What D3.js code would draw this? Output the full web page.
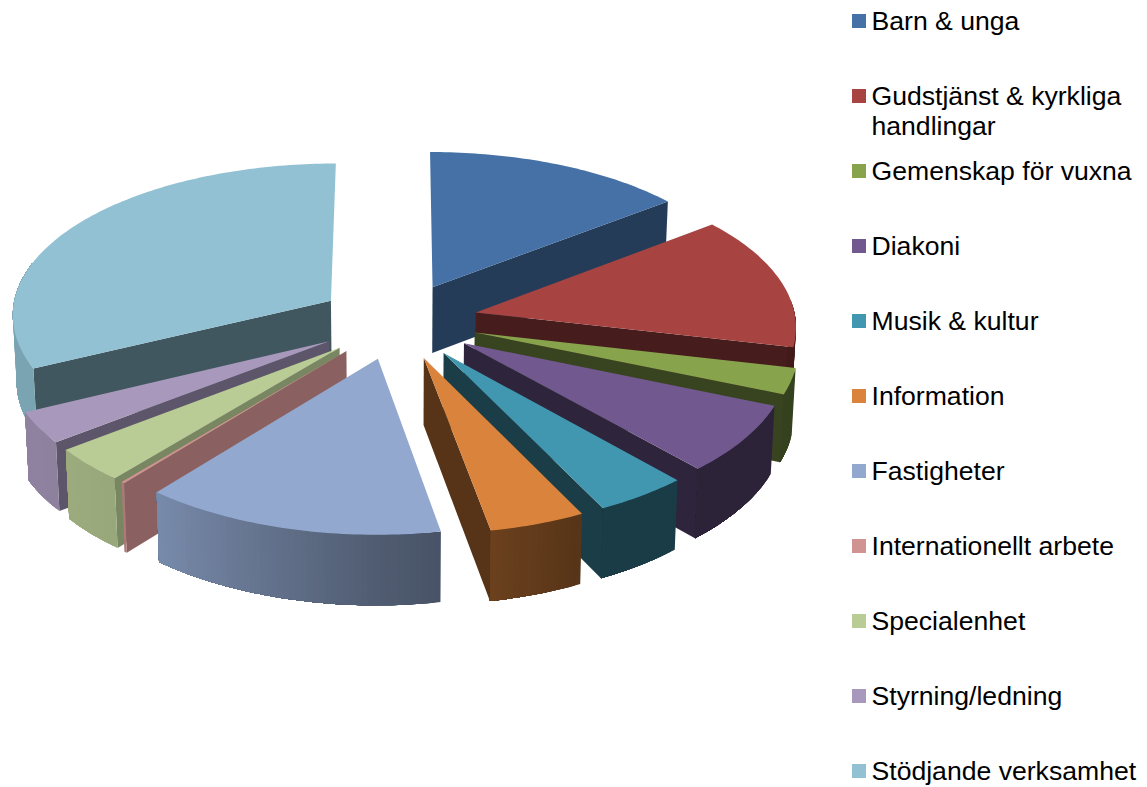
<!DOCTYPE html>
<html><head><meta charset="utf-8">
<script src="https://cdn.jsdelivr.net/npm/d3@7/dist/d3.min.js"></script>
<style>html,body{margin:0;padding:0;background:#fff}svg{display:block}text{font-family:"Liberation Sans",Arial,sans-serif;font-size:26.6px;fill:#000}</style>
</head><body><svg id="c" width="1147" height="787"></svg>
<script>
const categories = ["Barn & unga","Gudstjänst & kyrkliga|handlingar","Gemenskap för vuxna","Diakoni","Musik & kultur","Information","Fastigheter","Internationellt arbete","Specialenhet","Styrning/ledning","Stödjande verksamhet"];
const values = [14.5,14.1,2.7,7.1,4.3,4.4,13.8,0.15,3.55,3.25,32.2];
const colors = ["#4571a6","#a74442","#87a44d","#71588f","#4197af","#d9833c","#92a8cf","#d19392","#b9cc95","#a899bc","#91c1d3"];

const svg = d3.select("#c");
const cx=398, cy=320.8, R0=320, K0=153, persp=0.09, perspX=0.08, explode=0.25, H=66.5, bottomShrink=0.99;
const deg = r => r*180/Math.PI;
const pie = d3.pie().sort(null).startAngle(0).endAngle(2*Math.PI)(values);

function project(X,Y,z){
  const s = 1/(1-persp*Y), sx = 1/(1-perspX*Y);
  let x = cx + R0*X*sx, y = cy + K0*Y*s;
  if(z){ x = cx + (x-cx)*bottomShrink; y += H*Math.sqrt(s); }
  return [x,y];
}
const endShade = d3.scaleLinear().domain([52,103,170]).range([.53,.42,.40]).clamp(true);
const startShade = d3.scaleLinear().domain([219,232,244]).range([.66,.56,.45]).clamp(true);
const rimShade = d3.scaleLinear().domain([100,154,169,180,218,240,290]).range([.40,.40,.49,.55,.82,.85,.85]).clamp(true);
const dark = (c,f)=>{const r=d3.rgb(c);return d3.rgb(r.r*f,r.g*f,r.b*f).formatRgb();};
const line = d3.line();

function sliceGeom(d){
  const m=(d.startAngle+d.endAngle)/2;
  const ox=explode*Math.sin(m), oy=-explode*Math.cos(m);
  const rim=a=>[ox+Math.sin(a), oy-Math.cos(a)];
  return {ox,oy,rim};
}
function drawSlice(i){
  const d=pie[i], g=sliceGeom(d), col=colors[i], G=svg.append("g");
  const a0=d.startAngle,a1=d.endAngle;
  const A=[g.ox,g.oy], P0=g.rim(a0), P1=g.rim(a1);
  const wall=(P,f)=>G.append("path")
    .attr("d",line([project(A[0],A[1],0),project(P[0],P[1],0),project(P[0],P[1],1),project(A[0],A[1],1)])+"Z")
    .attr("fill",dark(col,f));
  if(deg(a1)<180) wall(P1,endShade(deg(a1)));
  if(deg(a0)>180) wall(P0,startShade(deg(a0)));
  // outer wall as overlapping shaded strips, so no seams appear between them
  const lo=Math.max(deg(a0),85), hi=Math.min(deg(a1),285);
  if(hi>lo){
    const n=Math.max(1,Math.ceil(hi-lo));
    const sc=d3.scaleLinear().domain([0,n]).range([lo,hi]);
    d3.range(n).forEach(k=>{
      // each strip runs on to the wall's end; later strips paint over the overlap
      const angs=d3.range(k,n+1).map(sc);
      const topE=angs.map(a=>{const p=g.rim(a*Math.PI/180);return project(p[0],p[1],0);});
      const botE=angs.map(a=>{const p=g.rim(a*Math.PI/180);return project(p[0],p[1],1);}).reverse();
      const f=rimShade((sc(k)+sc(k+1))/2);
      G.append("path").attr("d",line(topE.concat(botE))+"Z").attr("fill",dark(col,f));
    });
  }
  // top face
  const steps=Math.max(2,Math.ceil(deg(a1-a0)));
  const sc=d3.scaleLinear().domain([0,steps]).range([a0,a1]);
  const pts=[project(A[0],A[1],0)].concat(d3.range(steps+1).map(k=>{const p=g.rim(sc(k));return project(p[0],p[1],0);}));
  G.append("path").attr("d",line(pts)+"Z").attr("fill",col);
}
// painter's order: far to near, left and right sides separately
[10,9,8,7,0,1,2,3,4,5,6].forEach(drawSlice);

// legend
const legY = d3.scaleLinear().domain([0,10]).range([21,771]);
const leg = svg.append("g").selectAll("g").data(categories).join("g");
leg.append("rect").attr("x",852).attr("y",(d,i)=>legY(i)-7).attr("width",14).attr("height",14).attr("fill",(d,i)=>colors[i]);
leg.each(function(d,i){
  d.split("|").forEach((t,j)=>d3.select(this).append("text").attr("x",871.5).attr("y",legY(i)+9+j*30).text(t));
});
</script></body></html>
